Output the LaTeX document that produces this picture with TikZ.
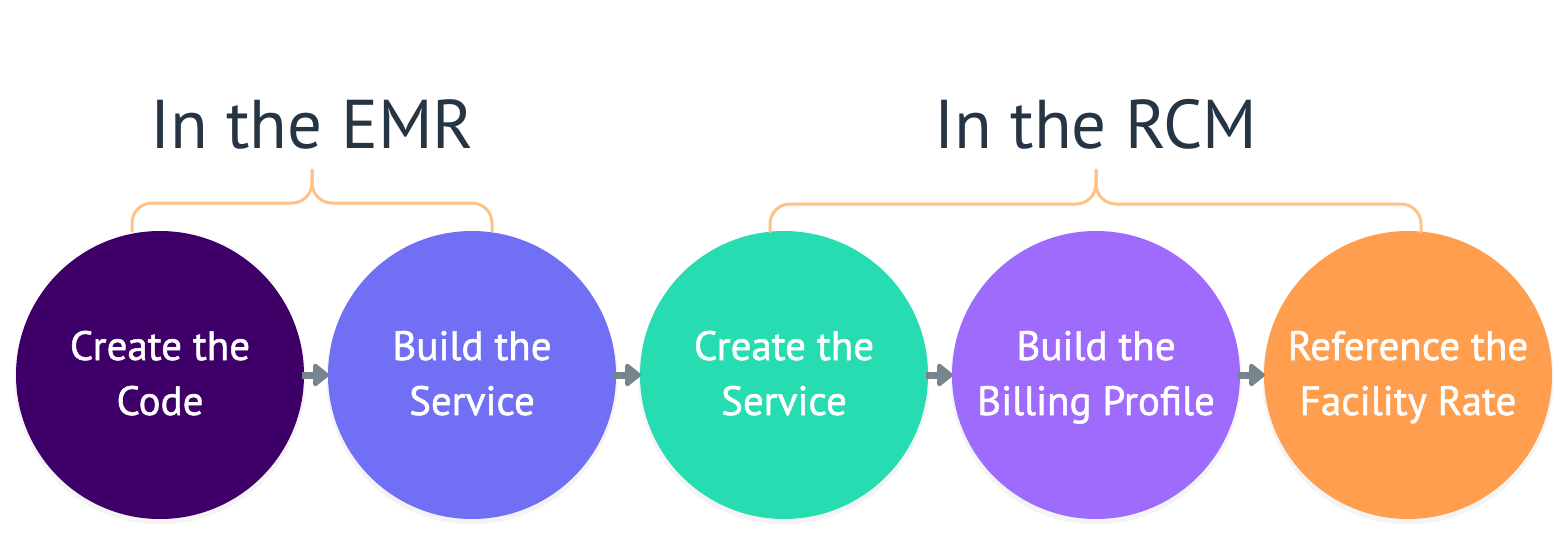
\documentclass[tikz,border=0pt]{standalone}
\usepackage{fontspec}
\setmainfont{PT Sans}
\newfontfamily\circfont{PT Sans}[FakeBold=1.3]
\usetikzlibrary{arrows.meta}
\definecolor{cA}{HTML}{3E0068}
\definecolor{cB}{HTML}{7170F5}
\definecolor{cC}{HTML}{26DCB0}
\definecolor{cD}{HTML}{9E6BFD}
\definecolor{cE}{HTML}{FF9E4F}
\definecolor{brc}{HTML}{FFC285}
\definecolor{arr}{HTML}{77858F}
\definecolor{ttl}{HTML}{263544}
\tikzset{
  stepcirc/.style={circle, minimum size=288pt, inner sep=0pt, text=white,
    align=center, font=\circfont\fontsize{41}{55}\selectfont},
  shadowcirc/.style={circle, minimum size=291pt, inner sep=0pt, fill=black, opacity=0.045},
  flowarrow/.style={draw=arr, line width=7pt, -{Triangle[length=17pt,width=26pt,round]}, shorten <=-2pt, shorten >=-1pt},
  bracepath/.style={draw=brc, line width=3pt, line cap=round, rounded corners=20pt},
  titletext/.style={text=ttl, font=\fontsize{69}{80}\selectfont, anchor=base}
}
\begin{document}
\begin{tikzpicture}[x=1pt,y=-1pt]
\useasboundingbox (0,0) rectangle (1568,536);
\fill[white] (0,0) rectangle (1568,536);
% shadows
\foreach \x in {160,472,784,1096,1408}{
  \node[shadowcirc] at (\x,379) {};
}
\node[stepcirc, fill=cA] (c1) at (160,375) {};
\node[stepcirc, fill=cB] (c2) at (472,375) {};
\node[stepcirc, fill=cC] (c3) at (784,375) {};
\node[stepcirc, fill=cD] (c4) at (1096,375) {};
\node[stepcirc, fill=cE] (c5) at (1408,375) {};
\node[stepcirc, fill=none] (l1) at (160,376.5) {\strut Create the\\\strut Code};
\node[stepcirc, fill=none] (l2) at (472,376.5) {\strut Build the\\\strut Service};
\node[stepcirc, fill=none] (l3) at (784,376.5) {\strut Create the\\\strut Service};
\node[stepcirc, fill=none] (l4) at (1096,376.5) {\strut Build the\\\strut Billing Profile};
\node[stepcirc, fill=none] (l5) at (1408,376.5) {\strut Reference the\\\strut Facility Rate};
\draw[flowarrow] (c1.east) -- (c2.west);
\draw[flowarrow] (c2.east) -- (c3.west);
\draw[flowarrow] (c3.east) -- (c4.west);
\draw[flowarrow] (c4.east) -- (c5.west);
% braces
\coordinate (b1l) at (132,231);
\coordinate (b1t) at (312,170);
\coordinate (b1r) at (492,231);
\draw[bracepath] (b1l) -- (132,203) -- (312,203) -- (312,170);
\draw[bracepath] (b1r) -- (492,203) -- (312,203) -- (b1t);
\coordinate (b2l) at (770,232);
\coordinate (b2t) at (1096,170);
\coordinate (b2r) at (1421,232);
\draw[bracepath] (b2l) -- (770,204) -- (1096,204) -- (1096,170);
\draw[bracepath] (b2r) -- (1421,204) -- (1096,204) -- (b2t);
% titles
\node[titletext] (t1) at (312,148) {In the EMR};
\node[titletext] (t2) at (1096,148) {In the RCM};
\end{tikzpicture}
\end{document}
